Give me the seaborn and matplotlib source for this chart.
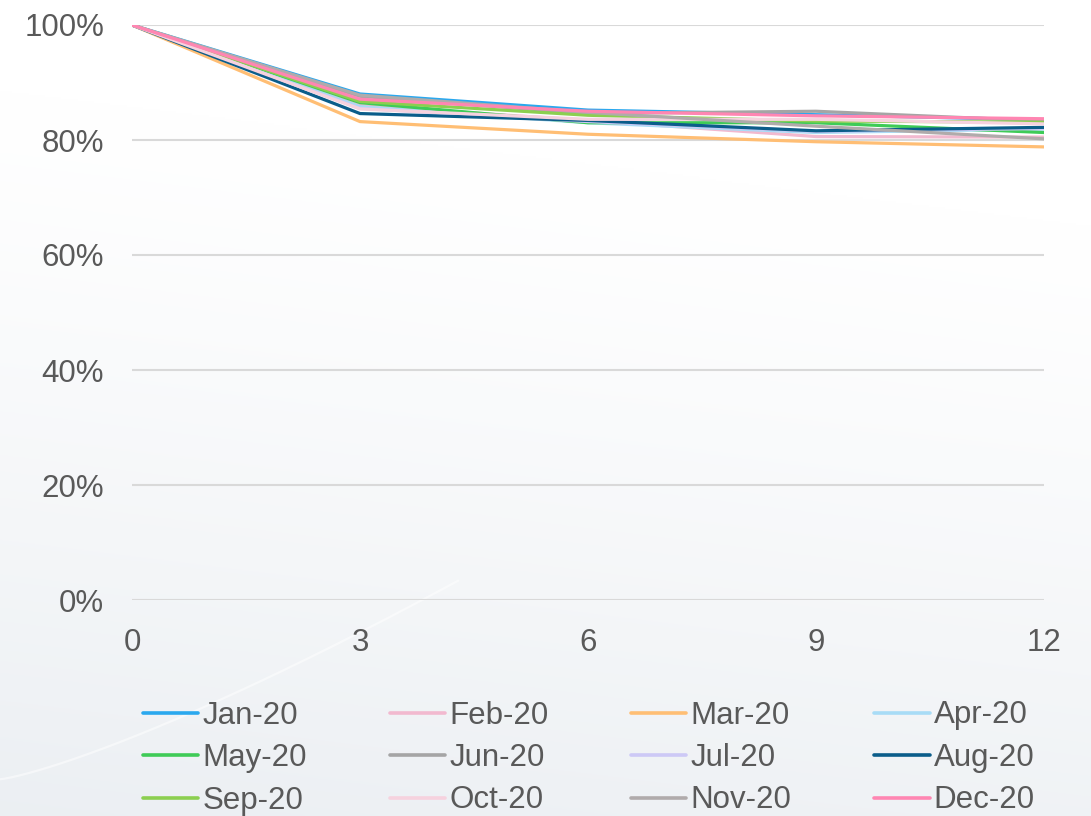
import numpy as np
import pandas as pd
import matplotlib
matplotlib.use("Agg")
import matplotlib.pyplot as plt
import seaborn as sns
from matplotlib.ticker import PercentFormatter

# Months since start
months = [0, 3, 6, 9, 12]

# Retention (%) by cohort
jan_20 = [100, 88.0, 85.2, 84.4, 83.5]
feb_20 = [100, 86.0, 83.4, 80.6, 80.5]
mar_20 = [100, 83.2, 81.0, 79.7, 78.8]
apr_20 = [100, 85.8, 83.0, 81.3, 81.9]
may_20 = [100, 86.5, 83.0, 83.0, 81.3]
jun_20 = [100, 87.6, 84.6, 85.0, 83.3]
jul_20 = [100, 85.5, 83.2, 81.5, 82.0]
aug_20 = [100, 84.6, 83.4, 81.6, 82.2]
sep_20 = [100, 86.7, 84.3, 83.3, 83.1]
oct_20 = [100, 85.4, 83.6, 83.6, 82.8]
nov_20 = [100, 87.8, 84.8, 82.4, 80.2]
dec_20 = [100, 87.1, 85.0, 84.2, 83.7]

cohorts = ["Jan-20", "Feb-20", "Mar-20", "Apr-20", "May-20", "Jun-20",
           "Jul-20", "Aug-20", "Sep-20", "Oct-20", "Nov-20", "Dec-20"]
series = [jan_20, feb_20, mar_20, apr_20, may_20, jun_20,
          jul_20, aug_20, sep_20, oct_20, nov_20, dec_20]

colors = ["#2aa8ee", "#f2b9cf", "#ffbe74", "#a8dcf6", "#3fcb57", "#a5a5a5",
          "#cdc9f6", "#0b5d8a", "#8ccf50", "#f6d2de", "#b0abab", "#ff86b2"]
palette = dict(zip(cohorts, colors))

df = pd.DataFrame({
    "month": np.tile(months, len(cohorts)),
    "retention": np.concatenate(series),
    "cohort": np.repeat(cohorts, len(months)),
})

sns.set_theme(style="white")
plt.rcParams["font.family"] = ["Liberation Sans", "DejaVu Sans"]

W, H = 1091, 816
fig = plt.figure(figsize=(W / 100, H / 100), dpi=100)

# Soft background: white at the top fading to a pale blue-grey
bg = fig.add_axes([0, 0, 1, 1], zorder=-10)
yy, xx = np.mgrid[0:1:400j, 0:1:400j]
t = np.clip((1 - yy) * 0.9 + (1 - xx) * 0.15 - 0.25, 0, 1) ** 1.2
top = np.array([1.0, 1.0, 1.0])
bottom = np.array([0.900, 0.918, 0.937])
img = top[None, None, :] * (1 - t[..., None]) + bottom[None, None, :] * t[..., None]
bg.imshow(img, extent=[0, 1, 0, 1], aspect="auto", origin="lower")
# faint light arc sweeping up from the lower left
arc_x = np.linspace(0.0, 0.42, 200)
arc_y = 0.045 + 0.72 * arc_x ** 1.25
bg.plot(arc_x, arc_y, color="white", lw=1.6, alpha=0.5)
bg.set_xlim(0, 1)
bg.set_ylim(0, 1)
bg.axis("off")

ax = fig.add_axes([132 / W, 1 - 600 / H, (1044 - 132) / W, (600 - 25) / H])
ax.patch.set_alpha(0)

sns.lineplot(data=df, x="month", y="retention", hue="cohort",
             hue_order=cohorts, palette=palette, linewidth=2.3,
             ax=ax, legend=False)

ax.set_xlim(0, 12)
ax.set_ylim(0, 100)
ax.set_xticks(months)
ax.set_yticks(np.arange(0, 101, 20))
ax.yaxis.set_major_formatter(PercentFormatter(decimals=0))
ax.set_xlabel("")
ax.set_ylabel("")
ax.grid(axis="y", color="#d9d9d9", linewidth=1.5)
ax.grid(axis="x", visible=False)
for s in ax.spines.values():
    s.set_visible(False)
ax.tick_params(axis="both", length=0, labelsize=22.5, colors="#595959")
ax.tick_params(axis="y", pad=20)
ax.tick_params(axis="x", pad=20)
ax.set_axisbelow(True)

# legend laid out row by row, four per row
handles = [plt.Line2D([], [], color=palette[c], linewidth=2.6) for c in cohorts]
order = [i + 4 * r for i in range(4) for r in range(3)]
leg = fig.legend([handles[i] for i in order], [cohorts[i] for i in order],
                 ncol=4, loc="center left",
                 bbox_to_anchor=(143 / W, 1 - 758 / H),
                 frameon=False, fontsize=22.5, borderpad=0, borderaxespad=0,
                 handlelength=1.77, handletextpad=0.13,
                 columnspacing=2.65, labelspacing=0.4)
for txt in leg.get_texts():
    txt.set_color("#595959")

fig.savefig("out.png", dpi=100)
